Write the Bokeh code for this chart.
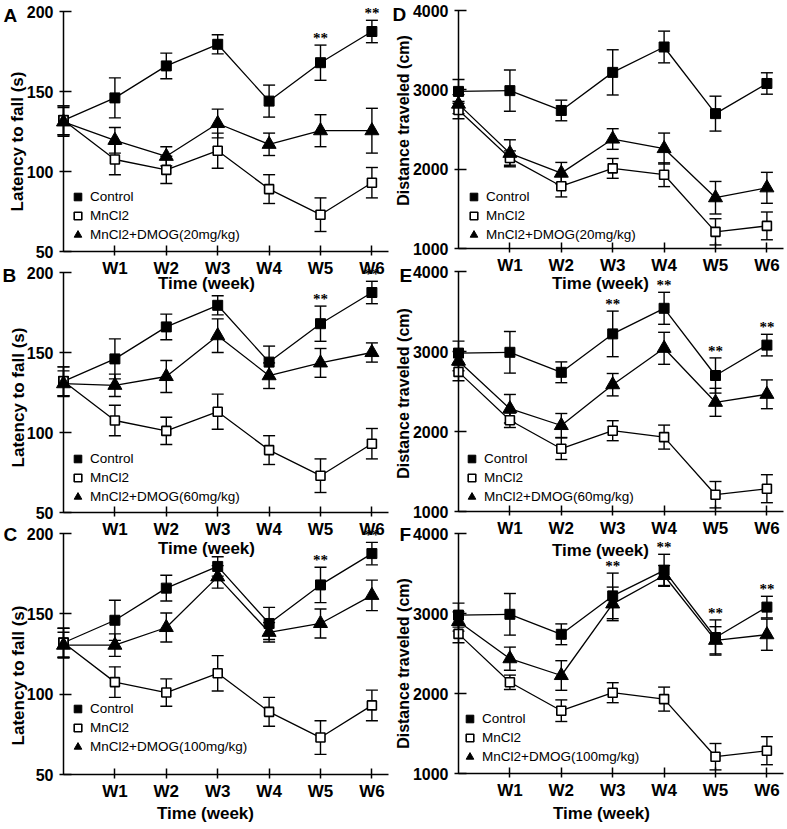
from bokeh.plotting import figure
from bokeh.models import (ColumnDataSource, Whisker, TeeHead, LinearAxis, FixedTicker,
                          Legend, LegendItem, LabelSet, Label, Range1d)
from bokeh.layouts import row, column
from bokeh.embed import file_html
from bokeh.resources import INLINE

# ---------------- data ----------------
weeks = [0, 1, 2, 3, 4, 5, 6]
tick_weeks = [1, 2, 3, 4, 5, 6]
tick_labels = ["W1", "W2", "W3", "W4", "W5", "W6"]
lat_ticks = [50, 100, 150, 200]
dist_ticks = [1000, 2000, 3000, 4000]
group_names = ["Control", "MnCl2"]
dmog_names = ["MnCl2+DMOG(20mg/kg)", "MnCl2+DMOG(60mg/kg)", "MnCl2+DMOG(100mg/kg)"]

# Latency to fall (s): mean and SEM
lat_control = [132, 146, 166, 179.5, 144, 168, 187.5]
lat_control_sem = [9, 12.5, 8, 6, 10, 11, 7]
lat_mncl2 = [132, 107.5, 101, 113, 89, 73, 93]
lat_mncl2_sem = [9, 9.5, 8.5, 11, 9, 10.5, 9.5]
lat_dmog20 = [131, 119.5, 109.5, 130, 117, 125.5, 125.5]
lat_dmog20_sem = [9, 8, 6, 9, 7, 10, 14]
lat_dmog60 = [130.5, 129.5, 135, 160.5, 135.5, 143.5, 150]
lat_dmog60_sem = [8, 7, 10, 10.5, 8, 9, 6]
lat_dmog100 = [130.5, 130.5, 141.5, 173, 138.5, 144, 161.5]
lat_dmog100_sem = [8, 7, 9, 7, 6, 9, 9.5]

# Distance traveled (cm): mean and SEM
dist_control = [2980, 2990, 2740, 3220, 3540, 2700, 3080]
dist_control_sem = [150, 260, 130, 285, 200, 220, 135]
dist_mncl2 = [2745, 2140, 1785, 2010, 1930, 1210, 1285]
dist_mncl2_sem = [110, 90, 135, 125, 150, 165, 175]
dist_dmog20 = [2820, 2200, 1950, 2380, 2260, 1640, 1765]
dist_dmog20_sem = [120, 170, 135, 130, 195, 205, 195]
dist_dmog60 = [2880, 2285, 2075, 2585, 3040, 2365, 2465]
dist_dmog60_sem = [120, 178, 150, 140, 200, 175, 180]
dist_dmog100 = [2900, 2435, 2225, 3120, 3475, 2665, 2735]
dist_dmog100_sem = [120, 145, 185, 210, 125, 170, 195]

# weeks marked ** (vs. MnCl2)
stars_A = [5, 6]
stars_B = [5, 6]
stars_C = [5, 6]
stars_D = []
stars_E = [3, 4, 5, 6]
stars_F = [3, 4, 5, 6]

FONT = "Liberation Sans"
PX_PER_WEEK = 51.4
X_AXIS_END = 6.33

# layout slots (page pixels): columns and rows
COL_SLOTS = [(0, 387), (387, 400)]      # (left, width)
ROW_SLOTS = [(0, 296), (296, 264), (560, 266)]  # (top, height)


def style_text_axis(a):
    a.major_label_text_font = FONT
    a.major_label_text_font_style = "bold"
    a.major_label_text_color = "black"
    a.axis_label_text_font = FONT
    a.axis_label_text_font_style = "bold"
    a.axis_label_text_color = "black"
    a.minor_tick_line_color = None


def make_panel(letter, ylabel, ylabel_size, yticks, ylim, control, control_sem,
               mncl2, mncl2_sem, dmog, dmog_sem, dmog_name, stars,
               col, rw, canvas, axis_x, top_px, bottom_px, letter_dx, letter_dy,
               legend_pos, xlab_pos, ylab_pos):
    # canvas = (left, top, right, bottom) in page pixels; the plotting frame
    # fills the whole canvas and the axes are pinned inside it.
    cl, ct, cr, cb = canvas
    fig_w, fig_h = cr - cl, cb - ct
    ax = axis_x - cl
    ytop, ybot = top_px - ct, bottom_px - ct
    x_start = -ax / PX_PER_WEEK
    x_end = (fig_w - ax) / PX_PER_WEEK
    ppu = (ybot - ytop) / (ylim[1] - ylim[0])
    y_end = ylim[1] + ytop / ppu
    y_start = ylim[0] - (fig_h - ybot) / ppu

    sl, sw = COL_SLOTS[col]
    st, sh = ROW_SLOTS[rw]
    ml, mt = cl - sl, ct - st
    mr, mb = sw - ml - fig_w, sh - mt - fig_h

    p = figure(width=fig_w, height=fig_h, output_backend="svg", toolbar_location=None,
               tools="", x_range=Range1d(x_start, x_end), y_range=Range1d(y_start, y_end),
               x_axis_type=None, y_axis_type=None,
               min_border_left=0, min_border_right=0, min_border_top=0,
               min_border_bottom=0, margin=(mt, mr, mb, ml),
               background_fill_color=None, border_fill_color=None,
               outline_line_color=None)

    # x axis: line, ticks and W1..W6
    xax = LinearAxis(ticker=FixedTicker(ticks=tick_weeks), fixed_location=ylim[0],
                     bounds=(0, X_AXIS_END),
                     major_label_overrides={w: l for w, l in zip(tick_weeks, tick_labels)})
    style_text_axis(xax)
    xax.axis_line_width = 1.5
    xax.major_tick_line_width = 1.5
    xax.major_tick_in = 6
    xax.major_tick_out = 4
    xax.major_label_standoff = 3
    xax.major_label_text_font_size = "17px"
    p.add_layout(xax, "below")

    # x axis title, centred where the reference puts it
    xc, xoff = xlab_pos
    xcw = (xc - axis_x) / PX_PER_WEEK
    xt = LinearAxis(ticker=FixedTicker(ticks=[]), fixed_location=ylim[0],
                    bounds=(xcw - 1, xcw + 1), axis_label="Time (week)",
                    axis_line_color=None, major_tick_line_color=None,
                    major_tick_in=0, major_tick_out=0, axis_label_standoff=xoff)
    style_text_axis(xt)
    xt.axis_label_text_font_size = "17px"
    p.add_layout(xt, "below")

    # y axis: line, ticks and numbers
    yax = LinearAxis(ticker=FixedTicker(ticks=yticks), fixed_location=0, bounds=ylim)
    style_text_axis(yax)
    yax.axis_line_width = 1.5
    yax.major_tick_line_width = 1.5
    yax.major_tick_in = 8
    yax.major_tick_out = 4
    yax.major_label_standoff = 6
    yax.major_label_text_font_size = "16px"
    p.add_layout(yax, "left")

    # y axis title
    yc, yoff = ylab_pos
    ycv = ylim[1] - (yc - top_px) / ppu
    yt = LinearAxis(ticker=FixedTicker(ticks=[]), fixed_location=0,
                    bounds=(ycv - 10, ycv + 10), axis_label=ylabel,
                    axis_line_color=None, major_tick_line_color=None,
                    major_tick_in=0, major_tick_out=0, axis_label_standoff=yoff)
    style_text_axis(yt)
    yt.axis_label_text_font_size = ylabel_size
    p.add_layout(yt, "left")

    series = [
        (group_names[0], control, control_sem, "square", "black", 10, 1),
        (group_names[1], mncl2, mncl2_sem, "square", "white", 9, 1.6),
        (dmog_name, dmog, dmog_sem, "triangle", "black", 14, 1),
    ]
    items = []
    for name, mean, sem, marker, fill, size, lw in series:
        src = ColumnDataSource(dict(
            x=weeks, y=mean,
            upper=[m + s for m, s in zip(mean, sem)],
            lower=[m - s for m, s in zip(mean, sem)]))
        p.line("x", "y", source=src, line_color="black", line_width=1.3)
        wh = Whisker(source=src, base="x", upper="upper", lower="lower",
                     dimension="height", line_color="black", line_width=1.4,
                     upper_head=TeeHead(size=12, line_color="black", line_width=1.4),
                     lower_head=TeeHead(size=12, line_color="black", line_width=1.4),
                     level="underlay")
        p.add_layout(wh)
        r = p.scatter("x", "y", source=src, marker=marker, size=size,
                      fill_color=fill, line_color="black", line_width=lw)
        items.append(LegendItem(label=name, renderers=[r]))

    # legend_pos = (left of glyph column, bottom of legend) in page pixels
    leg = Legend(items=items, location=(legend_pos[0] - cl, cb - legend_pos[1]),
                 background_fill_color=None,
                 border_line_color=None, label_text_font=FONT,
                 label_text_font_size="13.5px", label_text_color="black",
                 glyph_width=19, glyph_height=19, label_height=18,
                 spacing=0, padding=0, margin=0, label_standoff=3)
    p.add_layout(leg)

    if stars:
        ssrc = ColumnDataSource(dict(
            x=stars,
            y=[control[w] + control_sem[w] for w in stars],
            t=["**" for _ in stars]))
        p.add_layout(LabelSet(x="x", y="y", text="t", source=ssrc,
                              text_align="center", text_baseline="alphabetic",
                              y_offset=2,
                              text_font=FONT, text_font_style="bold",
                              text_font_size="15px", text_color="black"))

    p.add_layout(Label(x=0, y=ylim[1], x_offset=letter_dx, y_offset=letter_dy,
                       text=letter, text_align="left", text_baseline="middle",
                       text_font=FONT, text_font_style="bold",
                       text_font_size="19px", text_color="black"))
    return p


LAT = "Latency to fall (s)"
DIST = "Distance traveled (cm)"

pA = make_panel("A", LAT, "17px", lat_ticks, (50, 200), lat_control, lat_control_sem,
                lat_mncl2, lat_mncl2_sem, lat_dmog20, lat_dmog20_sem, dmog_names[0],
                stars_A, 0, 0, (0, -12, 410, 294), 63, 11, 251, -60, -4, (68, 244),
                (206, 22), (141, 37))
pB = make_panel("B", LAT, "17px", lat_ticks, (50, 200), lat_control, lat_control_sem,
                lat_mncl2, lat_mncl2_sem, lat_dmog60, lat_dmog60_sem, dmog_names[1],
                stars_B, 0, 1, (0, 236, 410, 558), 63, 272, 512, -61, -3, (68, 506),
                (206, 26), (397, 36))
pC = make_panel("C", LAT, "17px", lat_ticks, (50, 200), lat_control, lat_control_sem,
                lat_mncl2, lat_mncl2_sem, lat_dmog100, lat_dmog100_sem, dmog_names[2],
                stars_C, 0, 2, (0, 522, 410, 826), 63, 533, 774, -60, -1, (68, 756),
                (205, 29), (675, 36))
pD = make_panel("D", DIST, "16px", dist_ticks, (1000, 4000), dist_control, dist_control_sem,
                dist_mncl2, dist_mncl2_sem, dist_dmog20, dist_dmog20_sem, dmog_names[0],
                stars_D, 1, 0, (387, -54, 786, 294), 458, 10, 248, -66, -4, (464, 244),
                (600, 25), (120, 47))
pE = make_panel("E", DIST, "16px", dist_ticks, (1000, 4000), dist_control, dist_control_sem,
                dist_mncl2, dist_mncl2_sem, dist_dmog60, dist_dmog60_sem, dmog_names[1],
                stars_E, 1, 1, (387, 226, 786, 560), 458, 271, 511, -59, -4, (462, 506),
                (600, 29), (393, 47))
pF = make_panel("F", DIST, "16px", dist_ticks, (1000, 4000), dist_control, dist_control_sem,
                dist_mncl2, dist_mncl2_sem, dist_dmog100, dist_dmog100_sem, dmog_names[2],
                stars_F, 1, 2, (387, 503, 786, 823), 458, 533, 773, -59, -1, (460, 766),
                (601, 30), (663, 47))

layout = column(row(pA, pD), row(pB, pE), row(pC, pF))

open("out.html", "w").write(file_html(layout, INLINE))
